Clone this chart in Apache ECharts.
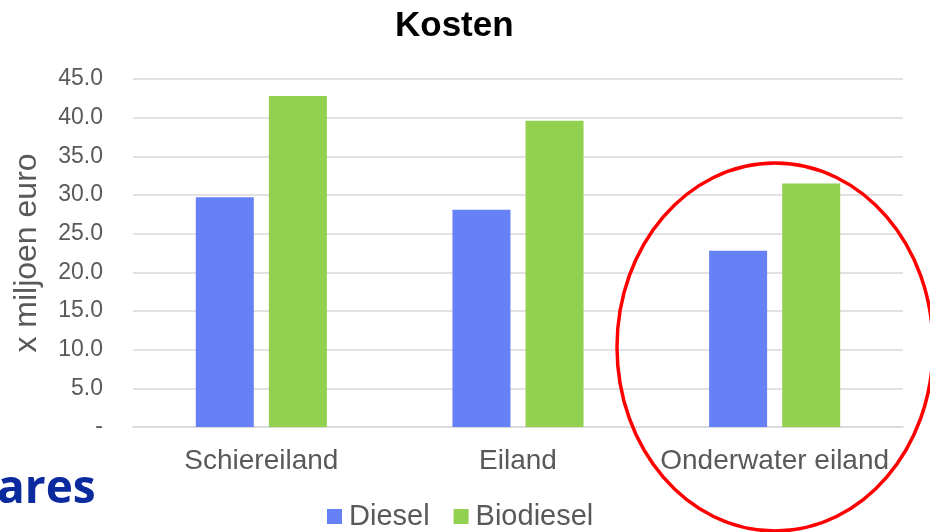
<!DOCTYPE html>
<html>
<head>
<meta charset="utf-8">
<style>
  html, body { margin: 0; padding: 0; background: #ffffff; }
  #chart { width: 930px; height: 532px; }
</style>
<script src="https://cdn.jsdelivr.net/npm/echarts@6/dist/echarts.min.js"></script>
</head>
<body>
<div id="chart"></div>
<script>
// Cost per island variant, in millions of euros
const categories = ['Schiereiland', 'Eiland', 'Onderwater eiland'];
const dieselValues = [29.7, 28.1, 22.8];
const biodieselValues = [42.8, 39.6, 31.5];
const seriesNames = ['Diesel', 'Biodiesel'];
const yTicks = [0, 5, 10, 15, 20, 25, 30, 35, 40, 45];

const FONT = '"Liberation Sans", Arial, sans-serif';
const TEXT_GREY = '#595959';

const chart = echarts.init(document.getElementById('chart'), null, { renderer: 'canvas' });

chart.setOption({
  animation: false,
  backgroundColor: '#ffffff',
  textStyle: { fontFamily: FONT },
  title: {
    text: 'Kosten',
    left: 390,
    top: 4,
    textStyle: { fontFamily: FONT, fontSize: 35, fontWeight: 'bold', color: '#000000' }
  },
  legend: {
    data: seriesNames,
    bottom: -4,
    left: 322,
    itemWidth: 15,
    itemHeight: 15,
    itemGap: 24,
    icon: 'rect',
    textStyle: { fontFamily: FONT, fontSize: 29, color: TEXT_GREY, padding: [0, 0, 0, 2] }
  },
  grid: { left: 133, right: 27, top: 79, bottom: 105, containLabel: false },
  xAxis: {
    type: 'category',
    data: categories,
    axisTick: { show: false },
    axisLine: { lineStyle: { color: '#d9d9d9', width: 1.5 } },
    axisLabel: { fontFamily: FONT, fontSize: 28, color: TEXT_GREY, margin: 20, interval: 0 }
  },
  yAxis: {
    type: 'value',
    min: yTicks[0],
    max: yTicks[yTicks.length - 1],
    interval: 5,
    name: 'x miljoen euro',
    nameLocation: 'middle',
    nameGap: 90,
    nameTextStyle: { fontFamily: FONT, fontSize: 32, color: TEXT_GREY },
    axisLine: { show: false },
    axisTick: { show: false },
    splitLine: { lineStyle: { color: '#d9d9d9', width: 1.5 } },
    axisLabel: {
      fontFamily: FONT,
      fontSize: 23,
      color: TEXT_GREY,
      margin: 30,
      formatter: function (v) { return v === 0 ? '-' : v.toFixed(1); }
    }
  },
  series: [
    {
      name: seriesNames[0],
      type: 'bar',
      data: dieselValues,
      barWidth: '22.6%',
      barGap: '26%',
      itemStyle: { color: '#6680f5' }
    },
    {
      name: seriesNames[1],
      type: 'bar',
      data: biodieselValues,
      barWidth: '22.6%',
      barGap: '26%',
      itemStyle: { color: '#92d050' }
    }
  ],
  graphic: [
    {
      type: 'text',
      x: -3,
      y: 490,
      style: {
        text: 'ares',
        font: 'bold 46px "Open Sans", sans-serif',
        fill: '#0b2a9e',
        verticalAlign: 'middle'
      }
    },
    {
      type: 'ellipse',
      shape: { cx: 775, cy: 347, rx: 158, ry: 184 },
      style: { fill: 'none', stroke: '#ff0000', lineWidth: 3.5 },
      z: 100
    }
  ]
});
</script>
</body>
</html>
